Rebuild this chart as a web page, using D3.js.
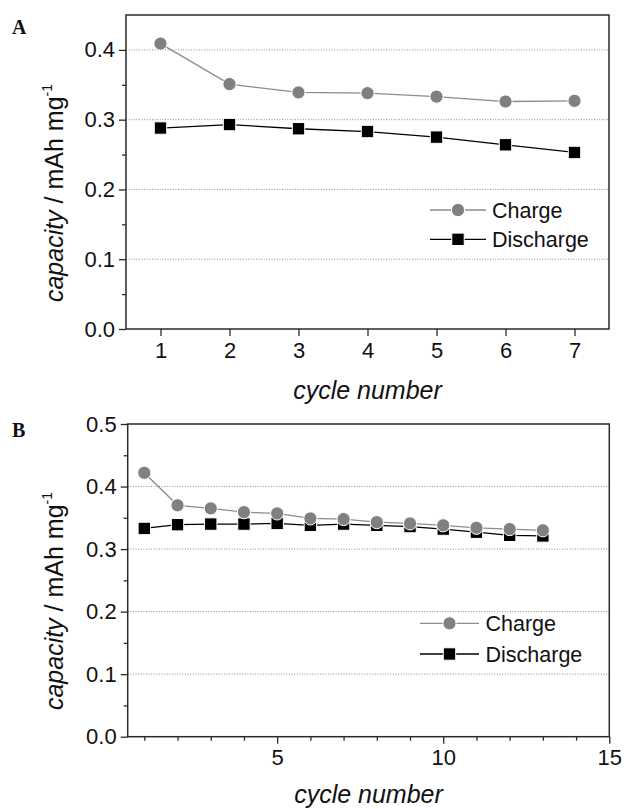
<!DOCTYPE html>
<html><head><meta charset="utf-8">
<script src="https://cdn.jsdelivr.net/npm/d3@7"></script>
<style>body{margin:0;background:#fff}svg{display:block}</style>
</head><body><svg id="c" width="626" height="809"></svg>
<script>
// ---- data ----
const seriesNames = ["Charge", "Discharge"];
const cyclesA = [1, 2, 3, 4, 5, 6, 7];
const chargeA = [0.409, 0.351, 0.339, 0.338, 0.333, 0.326, 0.327];
const dischargeA = [0.288, 0.293, 0.287, 0.283, 0.275, 0.264, 0.253];
const cyclesB = [1, 2, 3, 4, 5, 6, 7, 8, 9, 10, 11, 12, 13];
const chargeB = [0.422, 0.370, 0.365, 0.359, 0.357, 0.349, 0.348, 0.343, 0.341, 0.338, 0.334, 0.332, 0.330];
const dischargeB = [0.333, 0.339, 0.340, 0.340, 0.341, 0.338, 0.340, 0.338, 0.336, 0.332, 0.327, 0.322, 0.321];
const yTicksA = [0.0, 0.1, 0.2, 0.3, 0.4];
const yMinorA = [0.05, 0.15, 0.25, 0.35];
const xTicksA = [1, 2, 3, 4, 5, 6, 7];
const yTicksB = [0.0, 0.1, 0.2, 0.3, 0.4, 0.5];
const yMinorB = [0.05, 0.15, 0.25, 0.35, 0.45];
const xTicksB = [5, 10, 15];
const xMinorB = [1, 2, 3, 4, 6, 7, 8, 9, 11, 12, 13, 14];
const gridA = [0.1, 0.2, 0.3, 0.4];
const gridB = [0.1, 0.2, 0.3, 0.4];

const svg = d3.select("#c");
const SANS = "'Liberation Sans', Arial, Helvetica, sans-serif";

function panel(o) {
  const x = d3.scaleLinear().domain(o.xd).range([o.l, o.r]);
  const y = d3.scaleLinear().domain(o.yd).range([o.b, o.t]);
  const g = svg.append("g");

  // grid
  g.selectAll(".grid").data(o.grid).join("line")
    .attr("x1", o.l).attr("x2", o.r)
    .attr("y1", d => y(d)).attr("y2", d => y(d))
    .attr("stroke", "#8a8a8a").attr("stroke-width", 1)
    .attr("stroke-dasharray", "1 1.6");

  // frame
  g.append("rect").attr("x", o.l).attr("y", o.t)
    .attr("width", o.r - o.l).attr("height", o.b - o.t)
    .attr("fill", "none").attr("stroke", "#2a2a2a").attr("stroke-width", 1.5);

  // axes
  const ya = g.append("g").attr("transform", `translate(${o.l},0)`)
    .call(d3.axisLeft(y).tickValues(o.yt).tickFormat(d3.format(".1f")).tickSize(7).tickPadding(4));
  const yam = g.append("g").attr("transform", `translate(${o.l},0)`)
    .call(d3.axisLeft(y).tickValues(o.ym).tickFormat("").tickSize(4));
  const xa = g.append("g").attr("transform", `translate(0,${o.b})`)
    .call(d3.axisBottom(x).tickValues(o.xt).tickFormat(d3.format("d")).tickSize(7).tickPadding(6));
  const axes = [ya, yam, xa];
  if (o.xm) {
    axes.push(g.append("g").attr("transform", `translate(0,${o.b})`)
      .call(d3.axisBottom(x).tickValues(o.xm).tickFormat("").tickSize(4)));
  }
  axes.forEach(a => {
    a.select(".domain").remove();
    a.selectAll("line").attr("stroke", "#2a2a2a").attr("stroke-width", 1.3);
    a.selectAll("text").attr("font-family", SANS).attr("font-size", 22).attr("fill", "#111");
  });

  // series
  const series = [
    {name: seriesNames[0], v: o.charge, color: "#808080", line: "#8c8c8c", shape: "circle"},
    {name: seriesNames[1], v: o.discharge, color: "#000", line: "#000", shape: "square"}
  ];
  const line = d3.line().x(d => x(d[0])).y(d => y(d[1]));
  series.forEach(s => {
    const pts = o.cycles.map((c, i) => [c, s.v[i]]);
    g.append("path").datum(pts).attr("d", line)
      .attr("fill", "none").attr("stroke", s.line).attr("stroke-width", 1.3);
  });
  // markers: discharge first, charge on top
  [series[1], series[0]].forEach(s => {
    const pts = o.cycles.map((c, i) => [c, s.v[i]]);
    if (s.shape === "circle") {
      g.selectAll(null).data(pts).join("circle")
        .attr("cx", d => x(d[0])).attr("cy", d => y(d[1])).attr("r", 6.6)
        .attr("fill", s.color).attr("stroke", "#fff").attr("stroke-width", 1);
    } else {
      g.selectAll(null).data(pts).join("rect")
        .attr("x", d => x(d[0]) - 6.2).attr("y", d => y(d[1]) - 6.2)
        .attr("width", 12.4).attr("height", 12.4)
        .attr("fill", s.color).attr("stroke", "#fff").attr("stroke-width", 1);
    }
  });

  // legend
  series.forEach((s, i) => {
    const ly = o.leg.y + i * o.leg.dy;
    g.append("line").attr("x1", o.leg.x1).attr("x2", o.leg.x2).attr("y1", ly).attr("y2", ly)
      .attr("stroke", s.line).attr("stroke-width", 1.3);
    const mx = (o.leg.x1 + o.leg.x2) / 2;
    if (s.shape === "circle") {
      g.append("circle").attr("cx", mx).attr("cy", ly).attr("r", 6.6)
        .attr("fill", s.color).attr("stroke", "#fff").attr("stroke-width", 1);
    } else {
      g.append("rect").attr("x", mx - 6.2).attr("y", ly - 6.2).attr("width", 12.4).attr("height", 12.4)
        .attr("fill", s.color).attr("stroke", "#fff").attr("stroke-width", 1);
    }
    g.append("text").attr("x", o.leg.tx).attr("y", ly + 7.5)
      .attr("font-family", SANS).attr("font-size", 21.5).attr("fill", "#111").text(s.name);
  });

  // axis titles
  const yl = g.append("text")
    .attr("transform", `translate(${o.ylx},${o.yly}) rotate(-90)`)
    .attr("text-anchor", "middle").attr("font-family", SANS).attr("font-size", 25).attr("fill", "#111");
  yl.append("tspan").attr("font-style", "italic").text("capacity");
  yl.append("tspan").text(" / mAh mg");
  yl.append("tspan").attr("font-size", 14).attr("dy", -11).text("-1");

  g.append("text").attr("x", (o.l + o.r) / 2).attr("y", o.xly)
    .attr("text-anchor", "middle").attr("font-family", SANS).attr("font-size", 25)
    .attr("font-style", "italic").attr("fill", "#111").text("cycle number");

  // panel letter
  g.append("text").attr("x", 12).attr("y", o.lettery)
    .attr("font-family", "'Liberation Serif', 'Times New Roman', serif")
    .attr("font-weight", "bold").attr("font-size", 20).attr("fill", "#111").text(o.letter);
}

panel({
  l: 126, r: 609, t: 15, b: 329, xd: [0.5, 7.5], yd: [0, 0.45],
  yt: yTicksA, ym: yMinorA, xt: xTicksA, xm: null, grid: gridA,
  cycles: cyclesA, charge: chargeA, discharge: dischargeA,
  leg: {x1: 430, x2: 486, y: 210, dy: 29.3, tx: 492},
  ylx: 63, yly: 193, xly: 399, letter: "A", lettery: 34
});
panel({
  l: 127.7, r: 609.3, t: 424, b: 736.7, xd: [0.5, 15], yd: [0, 0.5],
  yt: yTicksB, ym: yMinorB, xt: xTicksB, xm: xMinorB, grid: gridB,
  cycles: cyclesB, charge: chargeB, discharge: dischargeB,
  leg: {x1: 420, x2: 479, y: 623.3, dy: 30.7, tx: 485.5},
  ylx: 63, yly: 601, xly: 803, letter: "B", lettery: 437
});
</script>
</body></html>
